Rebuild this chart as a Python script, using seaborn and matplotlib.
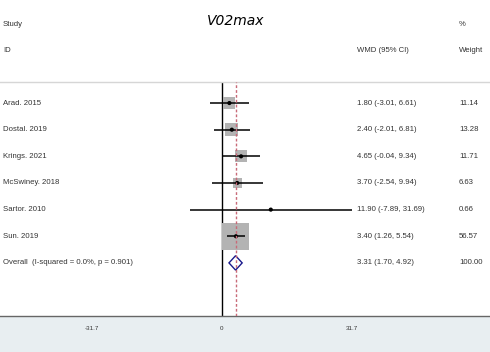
import matplotlib
matplotlib.use("Agg")
import matplotlib.pyplot as plt
import matplotlib.transforms as mtransforms
from matplotlib.patches import Rectangle, Polygon
import numpy as np
import pandas as pd
import seaborn as sns

studies = ["Arad. 2015", "Dostal. 2019", "Krings. 2021", "McSwiney. 2018",
           "Sartor. 2010", "Sun. 2019"]
wmd = [1.80, 2.40, 4.65, 3.70, 11.90, 3.40]
ci_low = [-3.01, -2.01, -0.04, -2.54, -7.89, 1.26]
ci_high = [6.61, 6.81, 9.34, 9.94, 31.69, 5.54]
weights = [11.14, 13.28, 11.71, 6.63, 0.66, 56.57]

overall_label = "Overall  (I-squared = 0.0%, p = 0.901)"
overall = [3.31, 1.70, 4.92]
overall_weight = 100.00

tick_values = [-31.7, 0, 31.7]
tick_labels = ["-31.7", "0", "31.7"]

df = pd.DataFrame({"study": studies, "wmd": wmd, "lo": ci_low,
                   "hi": ci_high, "weight": weights})
df["row"] = range(len(df))

sns.set_style("white")
plt.rcParams["font.family"] = ["Liberation Sans", "DejaVu Sans"]

W, H = 490, 352
fig = plt.figure(figsize=(W / 100, H / 100), dpi=100)
fig.patch.set_facecolor("white")

# bottom band behind axis labels
fig.patches.append(Rectangle((0, 0), 1, 36 / H, transform=fig.transFigure,
                             facecolor="#e8eef1", edgecolor="none", zorder=-1))

ax = fig.add_axes([0, 36 / H, 1, (316 - 82) / H])
ax.set_facecolor("white")

# squares sized by weight (area proportional)
k = 6.7
sns.scatterplot(data=df, x="wmd", y="row", size="weight",
                sizes=(min(weights) * k, max(weights) * k), marker="s",
                color="#b3b3b3", edgecolor="none", legend=False, ax=ax,
                zorder=2)
ax.hlines(df["row"], df["lo"], df["hi"], color="black", lw=1.1, zorder=3)
sns.scatterplot(data=df, x="wmd", y="row", color="black", s=9,
                edgecolor="none", legend=False, ax=ax, zorder=4)

# overall diamond
orow = len(df)
est, lo, hi = overall
ax.add_patch(Polygon([(lo, orow), (est, orow - 0.27), (hi, orow),
                      (est, orow + 0.27)], closed=True, facecolor="white",
                     edgecolor="#1a1a8c", lw=1.0, zorder=4))

ax.axvline(0, color="black", lw=1.0, zorder=1)
ax.axvline(est, color="#c86a78", lw=1.0, ls=(0, (2, 1.5)), zorder=5)

px = 4.1
ax.set_xlim(-222 / px, (W - 222) / px)
ax.set_ylim(6 + 53 / 26.6, -21 / 26.6)
ax.set_xlabel("")
ax.set_ylabel("")

ax.set_xticks(tick_values)
ax.set_xticklabels(tick_labels, fontsize=4.5, color="#333333")
ax.set_yticks([])
ax.tick_params(axis="x", direction="out", length=3, width=1, color="#555555",
               pad=4)
for s in ["left", "right"]:
    ax.spines[s].set_visible(False)
ax.spines["bottom"].set_color("#666666")
ax.spines["bottom"].set_linewidth(1.0)
ax.spines["top"].set_color("#d6d6d6")
ax.spines["top"].set_linewidth(1.0)

# text columns
fs = 5.6
tc = "#333333"
blend = mtransforms.blended_transform_factory(fig.transFigure, ax.transData)
rows_lab = studies + [overall_label]
rows_ci = [f"{e:.2f} ({l:.2f}, {h:.2f})" for e, l, h in zip(wmd, ci_low, ci_high)]
rows_ci.append(f"{est:.2f} ({lo:.2f}, {hi:.2f})")
rows_w = [f"{w:.2f}" for w in weights] + [f"{overall_weight:.2f}"]
for i, (a, b, c) in enumerate(zip(rows_lab, rows_ci, rows_w)):
    ax.text(3 / W, i, a, transform=blend, ha="left", va="center",
            fontsize=fs, color=tc)
    ax.text(357 / W, i, b, transform=blend, ha="left", va="center",
            fontsize=fs, color=tc)
    ax.text(459 / W, i, c, transform=blend, ha="left", va="center",
            fontsize=fs, color=tc)

fig.text(3 / W, 1 - 24 / H, "Study", ha="left", va="center", fontsize=fs, color=tc)
fig.text(3 / W, 1 - 50 / H, "ID", ha="left", va="center", fontsize=fs, color=tc)
fig.text(357 / W, 1 - 50 / H, "WMD (95% CI)", ha="left", va="center",
         fontsize=fs, color=tc)
fig.text(459 / W, 1 - 24 / H, "%", ha="left", va="center", fontsize=fs, color=tc)
fig.text(459 / W, 1 - 50 / H, "Weight", ha="left", va="center", fontsize=fs,
         color=tc)
fig.text(236 / W, 1 - 21 / H, "V02max", ha="center", va="center", fontsize=10,
         style="italic", family=["DejaVu Sans"], color="black")

fig.savefig("out.png", dpi=100)
